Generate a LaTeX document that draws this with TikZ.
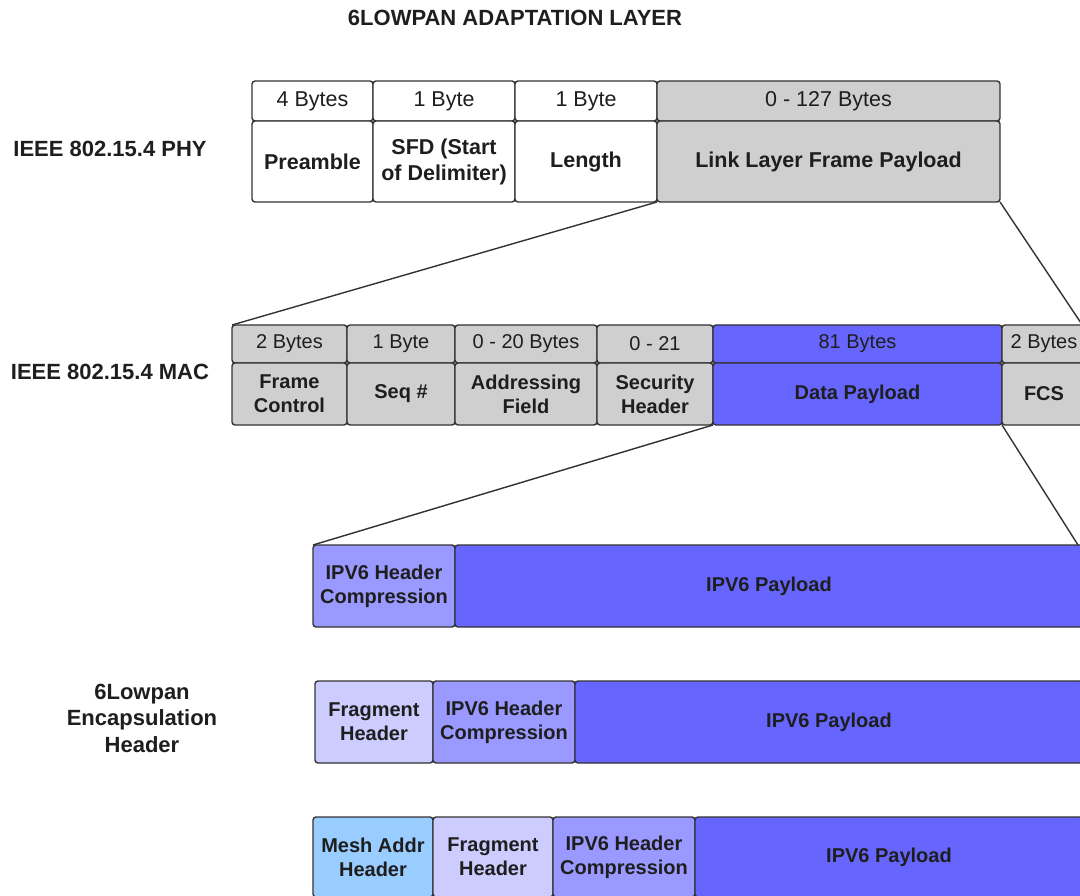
\documentclass[tikz,border=0pt]{standalone}
\usepackage{fontspec}
\setmainfont{Liberation Sans}
\definecolor{bcol}{HTML}{333333}
\definecolor{tcol}{HTML}{1E1E1E}
\definecolor{greyc}{HTML}{CFCFCF}
\definecolor{payc}{HTML}{6666FF}
\definecolor{hcc}{HTML}{9999FF}
\definecolor{fragc}{HTML}{CCCCFF}
\definecolor{meshc}{HTML}{99CCFF}
\begin{document}
\begin{tikzpicture}[x=1pt,y=-1pt,
  cell/.style={draw=bcol, line width=1.4pt, rounded corners=3pt, inner sep=0pt, outer sep=0pt,
    align=center, anchor=north west, text=tcol},
  fb/.style={font=\fontsize{21.5}{26}\selectfont\bfseries},
  fr/.style={font=\fontsize{21.5}{26}\selectfont},
  fbs/.style={font=\fontsize{20}{24}\selectfont\bfseries},
  frs/.style={font=\fontsize{20}{24}\selectfont},
  lab/.style={text=tcol, align=center, font=\fontsize{22}{26.5}\selectfont\bfseries},
  conn/.style={draw=bcol, line width=1.4pt}
]
\useasboundingbox (0,0) rectangle (1080,896);
\clip (0,0) rectangle (1080,896);
\fill[white] (0,0) rectangle (1080,896);

% title and side labels
\node[lab, font=\fontsize{22}{24}\selectfont\bfseries] (title) at (515,18) {6LOWPAN ADAPTATION LAYER};
\node[lab] (phy) at (110,149) {IEEE 802.15.4 PHY};
\node[lab] (mac) at (110,372) {IEEE 802.15.4 MAC};
\node[lab] (enc) at (142,718) {6Lowpan\\Encapsulation\\Header};

% PHY row
\node[cell, fr, fill=white, minimum width=121pt, minimum height=40pt] (p1t) at (252,81) {4 Bytes};
\node[cell, fr, fill=white, minimum width=142pt, minimum height=40pt] (p2t) at (373,81) {1 Byte};
\node[cell, fr, fill=white, minimum width=142pt, minimum height=40pt] (p3t) at (515,81) {1 Byte};
\node[cell, fr, fill=greyc, minimum width=343pt, minimum height=40pt] (p4t) at (657,81) {0 - 127 Bytes};
\node[cell, fb, fill=white, minimum width=121pt, minimum height=81pt] (p1b) at (252,121) {Preamble};
\node[cell, fb, fill=white, minimum width=142pt, minimum height=81pt] (p2b) at (373,121) {SFD (Start\\of Delimiter)};
\node[cell, fb, fill=white, minimum width=142pt, minimum height=81pt] (p3b) at (515,121) {Length};
\node[cell, fb, fill=greyc, minimum width=343pt, minimum height=81pt] (p4b) at (657,121) {Link Layer Frame Payload};

% MAC row
\node[cell, frs, fill=greyc, minimum width=115pt, minimum height=38pt] (m1t) at (232,325) {2 Bytes};
\node[cell, frs, fill=greyc, minimum width=108pt, minimum height=38pt] (m2t) at (347,325) {1 Byte};
\node[cell, frs, fill=greyc, minimum width=142pt, minimum height=38pt] (m3t) at (455,325) {0 - 20 Bytes};
\node[cell, frs, fill=greyc, minimum width=116pt, minimum height=38pt] (m4t) at (597,325) {0 - 21};
\node[cell, frs, fill=payc, minimum width=289pt, minimum height=38pt] (m5t) at (713,325) {81 Bytes};
\node[cell, frs, fill=greyc, minimum width=84pt, minimum height=38pt] (m6t) at (1002,325) {2 Bytes};
\node[cell, fbs, fill=greyc, minimum width=115pt, minimum height=62pt] (m1b) at (232,363) {Frame\\Control};
\node[cell, fbs, fill=greyc, minimum width=108pt, minimum height=62pt] (m2b) at (347,363) {Seq \#};
\node[cell, fbs, fill=greyc, minimum width=142pt, minimum height=62pt] (m3b) at (455,363) {Addressing\\Field};
\node[cell, fbs, fill=greyc, minimum width=116pt, minimum height=62pt] (m4b) at (597,363) {Security\\Header};
\node[cell, fbs, fill=payc, minimum width=289pt, minimum height=62pt] (m5b) at (713,363) {Data Payload};
\node[cell, fbs, fill=greyc, minimum width=84pt, minimum height=62pt] (m6b) at (1002,363) {FCS};

% row 3
\node[cell, fbs, fill=hcc, minimum width=142pt, minimum height=82pt] (r3a) at (313,545) {IPV6 Header\\Compression};
\node[cell, fbs, fill=payc, minimum width=628pt, minimum height=82pt] (r3b) at (455,545) {IPV6 Payload};

% row 4
\node[cell, fbs, fill=fragc, minimum width=118pt, minimum height=82pt] (r4a) at (315,681) {Fragment\\Header};
\node[cell, fbs, fill=hcc, minimum width=142pt, minimum height=82pt] (r4b) at (433,681) {IPV6 Header\\Compression};
\node[cell, fbs, fill=payc, minimum width=508pt, minimum height=82pt] (r4c) at (575,681) {IPV6 Payload};

% row 5
\node[cell, fbs, fill=meshc, minimum width=120pt, minimum height=80pt] (r5a) at (313,817) {Mesh Addr\\Header};
\node[cell, fbs, fill=fragc, minimum width=120pt, minimum height=80pt] (r5b) at (433,817) {Fragment\\Header};
\node[cell, fbs, fill=hcc, minimum width=142pt, minimum height=80pt] (r5c) at (553,817) {IPV6 Header\\Compression};
\node[cell, fbs, fill=payc, minimum width=388pt, minimum height=80pt] (r5d) at (695,817) {IPV6 Payload};

% connectors
\coordinate (c1) at (1081,323);
\coordinate (c2) at (1078,545);
\draw[conn] (p4b.south west) -- (m1t.north west);
\draw[conn] (p4b.south east) -- (c1);
\draw[conn] (m5b.south west) -- (r3a.north west);
\draw[conn] (m5b.south east) -- (c2);
\end{tikzpicture}
\end{document}
